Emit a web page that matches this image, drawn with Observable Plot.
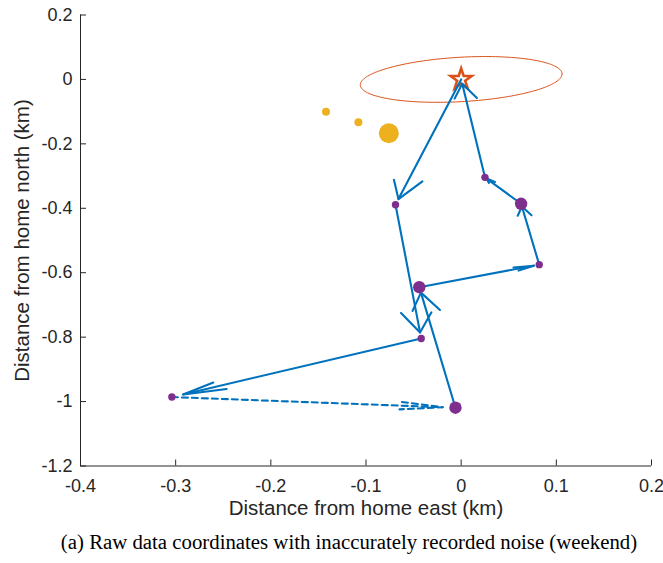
<!DOCTYPE html>
<html><head><meta charset="utf-8">
<script src="https://cdn.jsdelivr.net/npm/d3@7"></script>
<script src="https://cdn.jsdelivr.net/npm/@observablehq/plot@0.6"></script>
<style>
html,body{margin:0;padding:0;background:#fff;}
figure{margin:0;}
figcaption{font-family:"Liberation Serif","Times New Roman",serif;font-size:20.8px;color:#000;text-align:center;margin-top:5px;padding-left:35px;white-space:nowrap;}
</style></head><body><div id="chart"></div>
<script>
// Home location
const homeX = [0];
const homeY = [0];
// Trajectory (visit order), km east / north of home
const tripX = [0, -0.069, -0.042, -0.304, -0.006, -0.044, 0.082, 0.063, 0.025, 0];
const tripY = [0, -0.389, -0.804, -0.986, -1.019, -0.645, -0.575, -0.386, -0.304, 0];
const legDashed = [false, false, false, true, false, false, false, false, false];
// Stay points (purple)
const stayX = [-0.069, 0.025, 0.063, 0.082, -0.044, -0.042, -0.304, -0.006];
const stayY = [-0.389, -0.304, -0.386, -0.575, -0.645, -0.804, -0.986, -1.019];
const stayLong = [false, false, true, false, true, false, false, true];
// Noise points (yellow)
const noiseX = [-0.142, -0.108, -0.076];
const noiseY = [-0.100, -0.133, -0.167];
const noiseLong = [false, false, true];
// Home uncertainty ellipse
const ellipseCenter = [0, 0];
const ellipseHalfEast = 0.106;
const ellipseHalfNorth = 0.069;
const ellipseShear = 0.017;
// Ticks
const xTicks = [-0.4, -0.3, -0.2, -0.1, 0, 0.1, 0.2];
const xTickLabels = ["-0.4", "-0.3", "-0.2", "-0.1", "0", "0.1", "0.2"];
const yTicks = [0.2, 0, -0.2, -0.4, -0.6, -0.8, -1, -1.2];
const yTickLabels = ["0.2", "0", "-0.2", "-0.4", "-0.6", "-0.8", "-1", "-1.2"];

const arrowScale = 0.955, headLen = 0.155, headWidth = 0.26;
const arrowRows = [];
for (let i = 0; i < tripX.length - 1; i++) {
  const x0 = tripX[i], y0 = tripY[i];
  const u = (tripX[i + 1] - x0) * arrowScale, v = (tripY[i + 1] - y0) * arrowScale;
  const tx = x0 + u, ty = y0 + v;
  const dashed = legDashed[i];
  arrowRows.push({key: "s" + i, x: x0, y: y0, dashed}, {key: "s" + i, x: tx, y: ty, dashed});
  arrowRows.push(
    {key: "h" + i, x: tx - headLen * (u + headWidth * v), y: ty - headLen * (v - headWidth * u), dashed},
    {key: "h" + i, x: tx, y: ty, dashed},
    {key: "h" + i, x: tx - headLen * (u - headWidth * v), y: ty - headLen * (v + headWidth * u), dashed}
  );
}
const ellipseRows = d3.range(0, 181).map(k => {
  const t = k / 180 * 2 * Math.PI;
  return {x: ellipseCenter[0] + ellipseHalfEast * Math.cos(t),
          y: ellipseCenter[1] + ellipseShear * Math.cos(t) + ellipseHalfNorth * Math.sin(t)};
});
const stays = stayX.map((x, i) => ({x, y: stayY[i], long: stayLong[i]}));
const noise = noiseX.map((x, i) => ({x, y: noiseY[i], long: noiseLong[i]}));
const home = homeX.map((x, i) => ({x, y: homeY[i]}));

const BLUE = "#0072BD", ORANGE = "#D95319", YELLOW = "#EDB120", PURPLE = "#7E2F8E", AX = "#262626";

const chart = Plot.plot({
  width: 663, height: 525,
  marginLeft: 80, marginRight: 12, marginTop: 14.5, marginBottom: 59.5,
  x: {domain: [-0.4, 0.2]},
  y: {domain: [-1.2, 0.2]},
  style: {fontFamily: '"Liberation Sans", Arial, sans-serif', fontSize: "18px", color: AX, background: "#fff", overflow: "visible"},
  caption: "(a) Raw data coordinates with inaccurately recorded noise (weekend)",
  marks: [
    Plot.ruleX([xTicks[0]], {stroke: AX, strokeWidth: 1}),
    Plot.ruleY([yTicks[yTicks.length - 1]], {stroke: AX, strokeWidth: 1}),
    Plot.axisX(xTicks, {anchor: "bottom", tickSize: -6, tickPadding: 19, stroke: AX, fill: AX,
      tickFormat: d => xTickLabels[xTicks.indexOf(d)], label: null}),
    Plot.axisY(yTicks, {anchor: "left", tickSize: -6, tickPadding: 14, stroke: AX, fill: AX,
      tickFormat: d => yTickLabels[yTicks.indexOf(d)], label: null}),
    Plot.text(["Distance from home east (km)"], {frameAnchor: "bottom", dy: 49, fontSize: 20.5, fill: AX}),
    Plot.text(["Distance from home north (km)"], {frameAnchor: "left", textAnchor: "middle", rotate: -90, dx: -58, fontSize: 20.5, fill: AX}),
    Plot.line(ellipseRows, {x: "x", y: "y", stroke: ORANGE, strokeWidth: 1, curve: "linear"}),
    Plot.dot(home, {x: "x", y: "y", symbol: "star", r: 6.6, stroke: ORANGE, strokeWidth: 2.6, fill: "none"}),
    Plot.dot(noise.filter(d => !d.long), {x: "x", y: "y", r: 4, fill: YELLOW}),
    Plot.dot(noise.filter(d => d.long), {x: "x", y: "y", r: 10, fill: YELLOW}),
    Plot.line(arrowRows.filter(d => !d.dashed), {x: "x", y: "y", z: "key", stroke: BLUE, strokeWidth: 2.1}),
    Plot.line(arrowRows.filter(d => d.dashed), {x: "x", y: "y", z: "key", stroke: BLUE, strokeWidth: 2.1, strokeDasharray: "6,4"}),
    Plot.dot(stays.filter(d => !d.long), {x: "x", y: "y", r: 3.7, fill: PURPLE}),
    Plot.dot(stays.filter(d => d.long), {x: "x", y: "y", r: 6.2, fill: PURPLE})
  ]
});
document.getElementById("chart").appendChild(chart);
</script></body></html>
